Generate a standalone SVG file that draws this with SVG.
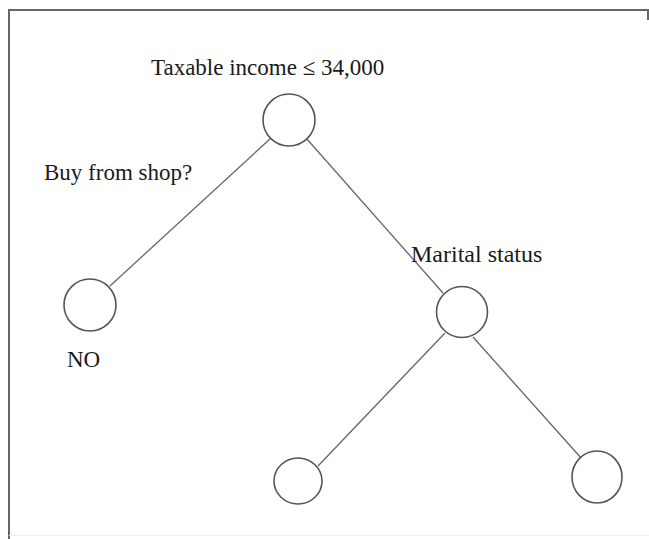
<svg xmlns="http://www.w3.org/2000/svg" width="649" height="539" viewBox="0 0 649 539">
<style>
.node{fill:#fff;stroke:#555;stroke-width:1.6}
.edge{stroke:#666;stroke-width:1.3;fill:none}
.lbl{font-family:"Liberation Serif","Times New Roman",serif;font-size:23px;fill:#1a1a1a}
.frame{stroke:#666;stroke-width:2;fill:none}
</style>
<rect width="649" height="539" fill="#fff"/>
<path class="frame" d="M9,539 V10 H648 V20"/>
<line x1="9" y1="535.5" x2="649" y2="535.5" stroke="#eee" stroke-width="1"/>
<g id="connectors">
<line class="edge" x1="271" y1="138" x2="110" y2="286"/>
<line class="edge" x1="306" y1="138" x2="443" y2="293"/>
<line class="edge" x1="445" y1="333" x2="318" y2="466"/>
<line class="edge" x1="473" y1="337" x2="582" y2="459"/>
</g>
<g id="root">
<circle class="node" cx="289" cy="120" r="26"/>
<text class="lbl" x="151" y="75">Taxable income ≤ 34,000</text>
</g>
<g id="left">
<circle class="node" cx="90" cy="305" r="26"/>
<text class="lbl" x="44" y="180">Buy from shop?</text>
<text class="lbl" x="67" y="367">NO</text>
</g>
<g id="marital">
<circle class="node" cx="462" cy="312" r="25.5"/>
<text class="lbl" x="411" y="262" style="font-size:24px">Marital status</text>
</g>
<g id="bottomLeft">
<ellipse class="node" cx="298" cy="481" rx="24" ry="23"/>
</g>
<g id="bottomRight">
<ellipse class="node" cx="597" cy="477" rx="25" ry="26"/>
</g>
</svg>
